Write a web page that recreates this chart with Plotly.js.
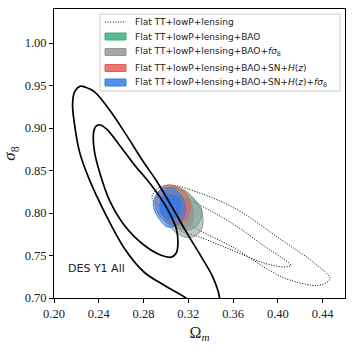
<!DOCTYPE html>
<html>
<head>
<meta charset="utf-8">
<script src="https://cdn.plot.ly/plotly-3.0.1.min.js"></script>
<style>
  body { margin: 0; background: #fff; }
  #plot { width: 355px; height: 346px; }
</style>
</head>
<body>
<div id="plot"></div>
<script>
// DES Y1 All contours, open at the bottom axis
var desOuterX = [0.3215, 0.3177, 0.2984, 0.2806, 0.2628, 0.2451, 0.2317, 0.2228, 0.2184, 0.2166, 0.2184, 0.2235, 0.2282, 0.2362, 0.2495, 0.2646, 0.2788, 0.2922, 0.3055, 0.3188, 0.3313, 0.3411, 0.3464, 0.3479, 0.3483];
var desOuterY = [0.695, 0.700, 0.715, 0.7303, 0.7586, 0.8011, 0.8389, 0.8719, 0.9038, 0.9274, 0.9426, 0.9491, 0.9479, 0.9426, 0.9214, 0.8919, 0.8624, 0.8365, 0.807, 0.7763, 0.7492, 0.7268, 0.7091, 0.700, 0.695];
var desInnerX = [0.2406, 0.2371, 0.2353, 0.2362, 0.2415, 0.2495, 0.2628, 0.2806, 0.2957, 0.3046, 0.3091, 0.3108, 0.3091, 0.3028, 0.2940, 0.2833, 0.2726, 0.2584, 0.2468, 0.2406];
var desInnerY = [0.9038, 0.9014, 0.8943, 0.8719, 0.8447, 0.8152, 0.7857, 0.7621, 0.7503, 0.748, 0.7527, 0.7657, 0.7822, 0.8011, 0.820, 0.8388, 0.8553, 0.8801, 0.899, 0.9038];

// Flat TT+lowP+lensing (dotted)
var ttOuterX = [0.2875, 0.2940, 0.3050, 0.3177, 0.3591, 0.4036, 0.4332, 0.4466, 0.4420, 0.4362, 0.4302, 0.4036, 0.3591, 0.3295, 0.3058, 0.2910, 0.2875];
var ttOuterY = [0.8191, 0.8300, 0.8325, 0.8290, 0.8073, 0.7680, 0.7406, 0.7229, 0.7170, 0.7150, 0.7150, 0.7248, 0.7602, 0.7799, 0.7996, 0.8113, 0.8191];
var ttInnerX = [0.2975, 0.3030, 0.3100, 0.3177, 0.3591, 0.3888, 0.4066, 0.4116, 0.4066, 0.3888, 0.3591, 0.3295, 0.3117, 0.3073, 0.3015, 0.2975];
var ttInnerY = [0.8130, 0.8200, 0.8200, 0.8172, 0.7878, 0.7602, 0.7445, 0.7386, 0.7366, 0.7406, 0.7563, 0.7720, 0.7799, 0.7878, 0.7995, 0.8130];

// +BAO (green)
var baoOuterX = [0.3040, 0.3162, 0.3248, 0.3322, 0.3307, 0.3248, 0.3159, 0.3040, 0.2966, 0.2966, 0.3040];
var baoOuterY = [0.8309, 0.8270, 0.8172, 0.8034, 0.7916, 0.7819, 0.7799, 0.7878, 0.8034, 0.8211, 0.8309];
var baoInnerX = [0.3117, 0.3206, 0.3242, 0.3206, 0.3126, 0.3046, 0.3028, 0.3055, 0.3117];
var baoInnerY = [0.8200, 0.8141, 0.8023, 0.7916, 0.7893, 0.7963, 0.8093, 0.8176, 0.8200];

// +BAO+fs8 (grey)
var fsOuterX = [0.3028, 0.3153, 0.3260, 0.3326, 0.3322, 0.3260, 0.3171, 0.3073, 0.2984, 0.2957, 0.3028];
var fsOuterY = [0.8294, 0.8259, 0.8152, 0.7987, 0.7822, 0.7728, 0.7716, 0.7787, 0.7940, 0.8129, 0.8294];
var fsInnerX = [0.3100, 0.3197, 0.3242, 0.3224, 0.3153, 0.3073, 0.3028, 0.3046, 0.3100];
var fsInnerY = [0.8176, 0.8117, 0.7987, 0.7857, 0.7810, 0.7869, 0.8011, 0.8141, 0.8176];

// +BAO+SN+H(z) (red)
var snOuterX = [0.3011, 0.3129, 0.3204, 0.3218, 0.3188, 0.3129, 0.3055, 0.2951, 0.2907, 0.2937, 0.3011];
var snOuterY = [0.8329, 0.8290, 0.8172, 0.8054, 0.7937, 0.7869, 0.7866, 0.7955, 0.8113, 0.8250, 0.8329];
var snInnerX = [0.3064, 0.3135, 0.3162, 0.3135, 0.3073, 0.3002, 0.2975, 0.3002, 0.3064];
var snInnerY = [0.8223, 0.8176, 0.8070, 0.7975, 0.7940, 0.7987, 0.8093, 0.8188, 0.8223];

// +BAO+SN+H(z)+fs8 (blue)
var allOuterX = [0.2966, 0.3070, 0.3159, 0.3173, 0.3100, 0.3011, 0.2937, 0.2892, 0.2892, 0.2966];
var allOuterY = [0.8290, 0.8290, 0.8152, 0.7996, 0.7857, 0.7837, 0.7937, 0.8054, 0.8152, 0.8290];
var allInnerX = [0.3037, 0.3100, 0.3131, 0.3117, 0.3055, 0.2984, 0.2948, 0.2957, 0.2993, 0.3037];
var allInnerY = [0.8211, 0.8188, 0.8093, 0.7998, 0.7934, 0.7952, 0.8034, 0.8152, 0.8200, 0.8211];

var xTicks = [0.20, 0.24, 0.28, 0.32, 0.36, 0.40, 0.44];
var yTicks = [0.70, 0.75, 0.80, 0.85, 0.90, 0.95, 1.00];

var names = [
  'Flat TT+lowP+lensing',
  'Flat TT+lowP+lensing+BAO',
  'Flat TT+lowP+lensing+BAO+<i>fσ</i><sub>8</sub>',
  'Flat TT+lowP+lensing+BAO+SN+<i>H</i>(<i>z</i>)',
  'Flat TT+lowP+lensing+BAO+SN+<i>H</i>(<i>z</i>)+<i>fσ</i><sub>8</sub>'
];

var green = '60,174,128', grey = '150,150,150', red = '230,95,85', blue = '50,125,230';
var colors = [null, green, grey, red, blue];

function filled(x, y, rgb, alpha){
  return {
    x: x, y: y, type: 'scatter', mode: 'lines', fill: 'toself',
    fillcolor: 'rgba(' + rgb + ',' + alpha + ')',
    line: {color: 'rgba(' + rgb + ',0.95)', width: 1, shape: 'spline'},
    showlegend: false, hoverinfo: 'skip'
  };
}

var dotted = {color: 'black', width: 1, dash: '1px,1.6px', shape: 'spline'};

var data = [
  {x: ttOuterX, y: ttOuterY, type: 'scatter', mode: 'lines', showlegend: false, line: dotted},
  {x: ttInnerX, y: ttInnerY, type: 'scatter', mode: 'lines', showlegend: false, line: dotted},
  filled(baoOuterX, baoOuterY, green, 0.55),
  filled(baoInnerX, baoInnerY, green, 0.8),
  filled(fsOuterX, fsOuterY, grey, 0.55),
  filled(fsInnerX, fsInnerY, grey, 0.8),
  filled(snOuterX, snOuterY, red, 0.55),
  filled(snInnerX, snInnerY, red, 0.8),
  filled(allOuterX, allOuterY, blue, 0.6),
  filled(allInnerX, allInnerY, blue, 0.9),
  {x: desOuterX, y: desOuterY, type: 'scatter', mode: 'lines', showlegend: false,
   line: {color: 'black', width: 1.7, shape: 'spline'}},
  {x: desInnerX, y: desInnerY, type: 'scatter', mode: 'lines', showlegend: false,
   line: {color: 'black', width: 1.7, shape: 'spline'}}
];

// legend drawn by hand (pixel positions -> paper coords)
var L = 54, T = 9, W = 291, H = 289;
function px(x){ return (x - L) / W; }
function py(y){ return (T + H - y) / H; }
var rowY = [22, 36.5, 52, 68, 82.5];

var shapes = [{
  type: 'rect', xref: 'paper', yref: 'paper',
  x0: px(100), x1: px(340), y0: py(91), y1: py(14),
  line: {color: '#cccccc', width: 1}, fillcolor: 'white', layer: 'above'
}];
var annotations = [];
names.forEach(function(n, i){
  if (i === 0) {
    shapes.push({type: 'line', xref: 'paper', yref: 'paper', x0: px(105), x1: px(126), y0: py(rowY[i]), y1: py(rowY[i]),
      line: {color: 'black', width: 1, dash: '1px,1.6px'}, layer: 'above'});
  } else {
    shapes.push({type: 'rect', xref: 'paper', yref: 'paper', x0: px(105), x1: px(126), y0: py(rowY[i] + 3.5), y1: py(rowY[i] - 3.5),
      fillcolor: 'rgba(' + colors[i] + ',0.85)', line: {color: 'rgba(' + colors[i] + ',1)', width: 1}, layer: 'above'});
  }
  annotations.push({xref: 'paper', yref: 'paper', x: px(133), y: py(rowY[i]), xanchor: 'left', yanchor: 'middle',
    text: n, showarrow: false, font: {family: 'DejaVu Sans, sans-serif', size: 9, color: '#222'}});
});
annotations.push({
  x: 0.2105, y: 0.735, xref: 'x', yref: 'y', xanchor: 'left', yanchor: 'middle',
  text: 'DES Y1 All', showarrow: false,
  font: {family: 'DejaVu Sans, sans-serif', size: 11, color: '#222'}
});

var serif = 'Liberation Serif, serif';

var layout = {
  width: 355, height: 346,
  margin: {l: L, r: 10, t: T, b: 48},
  paper_bgcolor: 'white', plot_bgcolor: 'white',
  showlegend: false,
  xaxis: {
    range: [0.20, 0.46], tickvals: xTicks, ticktext: xTicks.map(function(v){ return v.toFixed(2); }),
    ticks: 'outside', ticklen: 4, tickcolor: 'black', showgrid: false, zeroline: false,
    showline: true, linecolor: 'black', linewidth: 1, mirror: true,
    tickfont: {family: serif, size: 12.5, color: '#222'},
    title: {text: 'Ω<sub><i>m</i></sub>', font: {family: serif, size: 16, color: '#222'}, standoff: 6}
  },
  yaxis: {
    range: [0.70, 1.04], tickvals: yTicks, ticktext: yTicks.map(function(v){ return v.toFixed(2); }),
    ticks: 'outside', ticklen: 4, tickcolor: 'black', showgrid: false, zeroline: false,
    showline: true, linecolor: 'black', linewidth: 1, mirror: true,
    tickfont: {family: serif, size: 12.5, color: '#222'},
    title: {text: '<i>σ</i><sub>8</sub>', font: {family: serif, size: 17, color: '#222'}, standoff: 6}
  },
  shapes: shapes,
  annotations: annotations
};

Plotly.newPlot('plot', data, layout, {displayModeBar: false});
</script>
</body>
</html>
